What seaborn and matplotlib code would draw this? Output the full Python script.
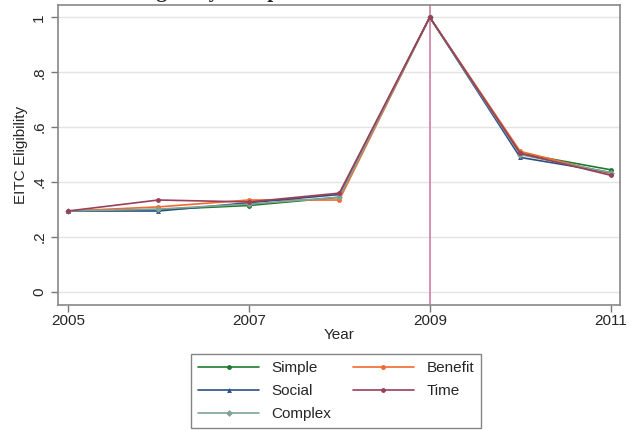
import matplotlib
matplotlib.use("Agg")
import matplotlib.pyplot as plt
import seaborn as sns
import pandas as pd

# Share of filers eligible for the EITC, by letter treatment
years = [2005, 2006, 2007, 2008, 2009, 2010, 2011]
simple = [0.295, 0.300, 0.315, 0.345, 1.0, 0.505, 0.445]
benefit = [0.295, 0.310, 0.335, 0.335, 1.0, 0.512, 0.430]
social = [0.295, 0.295, 0.325, 0.355, 1.0, 0.490, 0.435]
time_ = [0.295, 0.335, 0.328, 0.360, 1.0, 0.505, 0.425]
complex_ = [0.295, 0.302, 0.320, 0.345, 1.0, 0.500, 0.435]

series = {
    "Simple": simple,
    "Benefit": benefit,
    "Social": social,
    "Time": time_,
    "Complex": complex_,
}
order = ["Simple", "Social", "Complex", "Benefit", "Time"]
yticks = [0, 0.2, 0.4, 0.6, 0.8, 1.0]
ytick_labels = ["0", ".2", ".4", ".6", ".8", "1"]
xticks = [2005, 2007, 2009, 2011]

df = pd.DataFrame(
    [(y, name, v) for name, vals in series.items() for y, v in zip(years, vals)],
    columns=["Year", "Treatment", "EITC Eligibility"],
)

palette = {
    "Simple": "#1e7a2c",
    "Benefit": "#f26a2e",
    "Social": "#2a4f86",
    "Time": "#9a4058",
    "Complex": "#7fa495",
}
markers = {"Simple": "o", "Benefit": "o", "Social": "^", "Time": "o", "Complex": "D"}

sns.set_style("white")
plt.rcParams["font.family"] = ["Liberation Sans", "DejaVu Sans"]

fig = plt.figure(figsize=(6.33, 4.30), dpi=100)
ax = fig.add_axes([0.0916, 0.2907, 0.8874, 0.6973])

ax.axvline(2009, color="#cc7fa3", lw=1.2, zorder=1)

sns.lineplot(
    data=df, x="Year", y="EITC Eligibility", hue="Treatment", style="Treatment",
    hue_order=["Simple", "Benefit", "Social", "Complex", "Time"],
    palette=palette, markers=markers, dashes=False, markersize=3.5,
    markeredgewidth=0, linewidth=1.2, ax=ax, zorder=3,
)

ax.set_xlim(2004.89, 2011.1)
ax.set_ylim(-0.047, 1.044)
ax.set_yticks(yticks)
ax.set_yticklabels(ytick_labels, rotation=90, va="center")
ax.set_xticks(xticks)
ax.tick_params(axis="both", labelsize=11, length=5, color="#777777", width=1, direction="out",
               left=True, bottom=True)
ax.tick_params(axis="x", pad=1.5)
ax.yaxis.grid(True, color="#e4e4e4", lw=1)
ax.xaxis.grid(False)
for sp in ax.spines.values():
    sp.set_color("#888888")
    sp.set_linewidth(1.2)
ax.set_xlabel("Year", fontsize=11, labelpad=0)
ax.set_ylabel("EITC Eligibility", fontsize=11, labelpad=3)

handles, labels = ax.get_legend_handles_labels()
hmap = dict(zip(labels, handles))
ax.get_legend().remove()
leg = fig.legend(
    [hmap[k] for k in order], order, ncol=2, loc="lower center",
    bbox_to_anchor=(0.531, 0.004), borderaxespad=0, fontsize=11, frameon=True,
    fancybox=False, handlelength=4.0, columnspacing=1.4, labelspacing=0.6,
    borderpad=0.45, handletextpad=0.8,
)
leg.get_frame().set_edgecolor("#666666")
leg.get_frame().set_linewidth(1.0)

# Title sits at the very top edge of the canvas
fig.text(0.5, 1.006, "Eligibility Compared to the 2009 Baseline", ha="center", va="baseline",
         fontsize=15, fontweight="bold", family="Liberation Serif")

fig.savefig("out.png", dpi=100)
